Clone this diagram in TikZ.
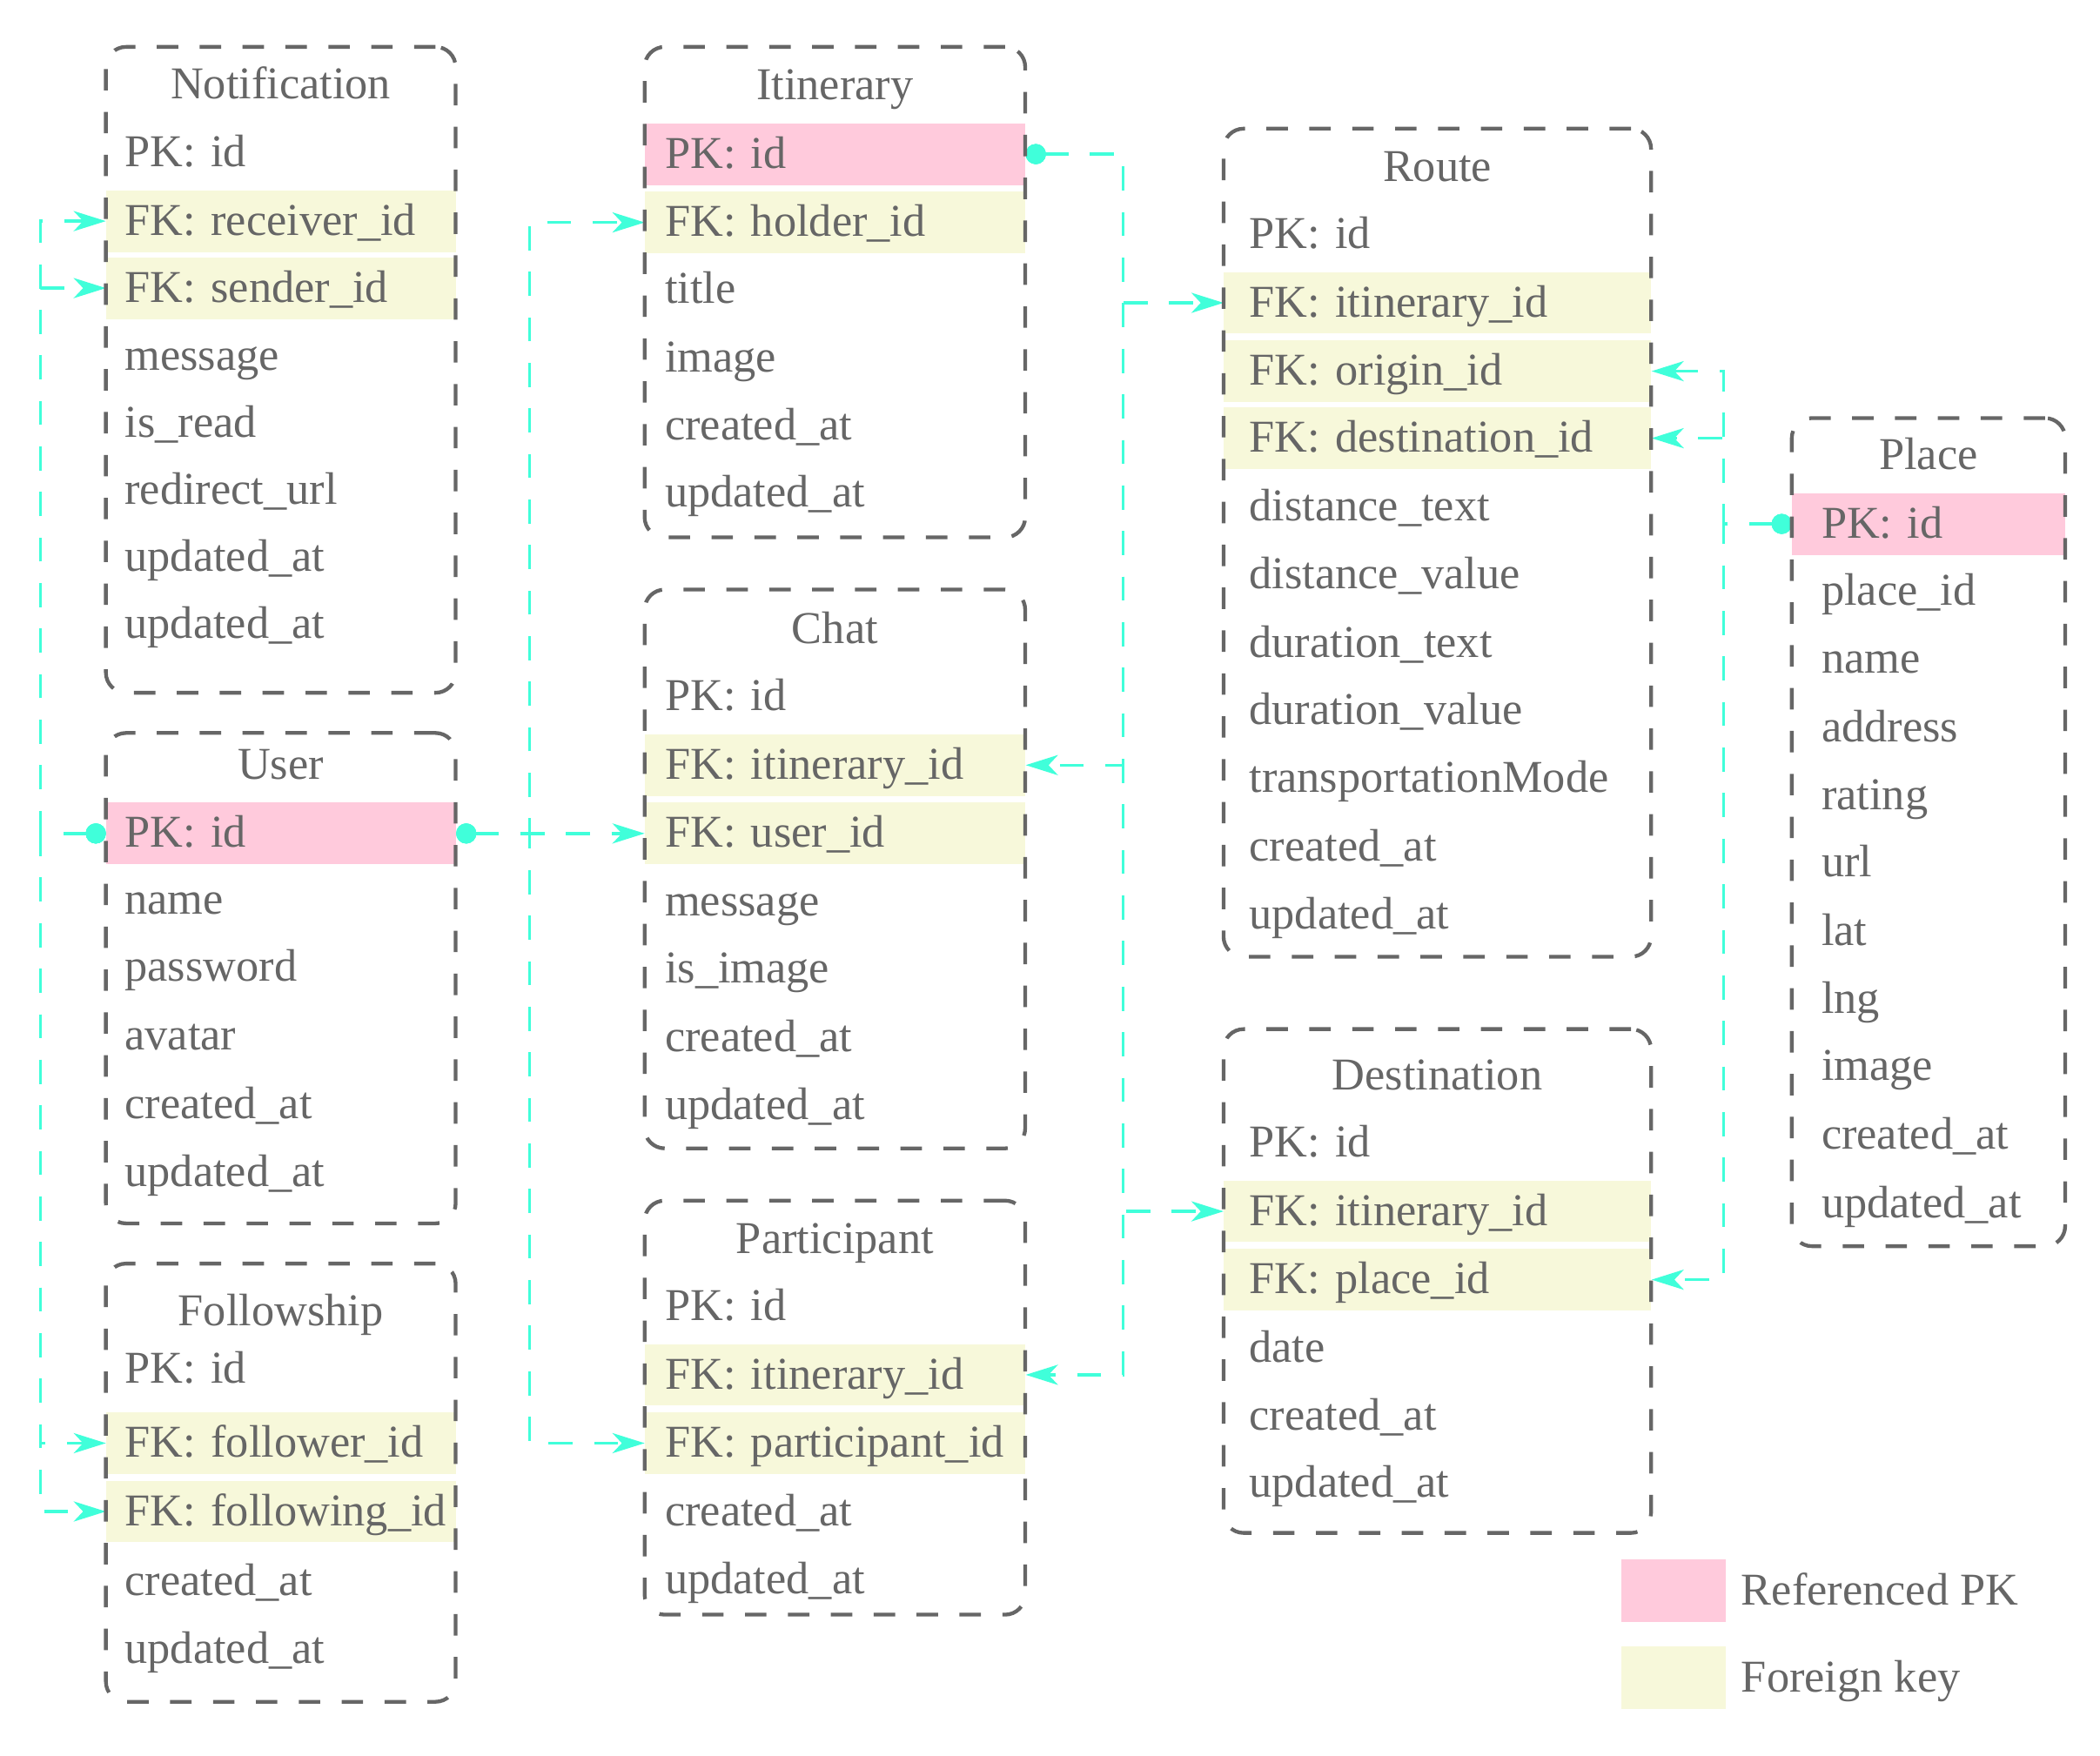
\documentclass[tikz,border=0pt]{standalone}
\usepackage{fontspec}
\setmainfont{Liberation Serif}
\usetikzlibrary{arrows.meta,positioning}
\definecolor{txtgray}{RGB}{102,102,102}
\definecolor{pkpink}{RGB}{255,202,220}
\definecolor{fkyellow}{RGB}{247,248,218}
\definecolor{linkcyan}{RGB}{64,255,218}
\pgfdeclarelayer{edgelayer}
\pgfdeclarelayer{nodelayer}
\pgfsetlayers{edgelayer,nodelayer,main}
\tikzset{font=\fontsize{34}{40}\selectfont}
\tikzstyle{tablebox}=[draw=txtgray, rounded corners=15pt, line width=2.8pt, dash pattern=on 16pt off 16pt]
\tikzstyle{tabtitle}=[text=txtgray, inner sep=0pt, text height=30pt, text depth=9pt]
\tikzstyle{field}=[anchor=west, text=txtgray, align=left, inner ysep=0pt, minimum height=46pt, text height=30pt, text depth=9pt, execute at begin node={\hyphenpenalty=10000\exhyphenpenalty=10000\relax}]
\tikzstyle{pkey}=[field, fill=pkpink]
\tikzstyle{fkey}=[field, fill=fkyellow]
\tikzstyle{colA}=[inner xsep=14pt, text width=233pt]
\tikzstyle{colB}=[inner xsep=15pt, text width=254pt]
\tikzstyle{colC}=[inner xsep=19pt, text width=281pt]
\tikzstyle{colD}=[inner xsep=22pt, text width=160pt]
\tikzstyle{fklink}=[draw=linkcyan, line width=2.2pt, dash pattern=on 18pt off 16pt, {Circle[length=15pt]}-{Stealth[length=24pt,width=15pt,inset=7pt]}]
\tikzstyle{legendbox}=[minimum width=78pt, minimum height=47pt, inner sep=0pt]
\tikzstyle{legendtext}=[text=txtgray, inner sep=0pt, text height=30pt, text depth=9pt]

\begin{document}
\begin{tikzpicture}[x=1pt,y=-1pt]
	\useasboundingbox (0,0) rectangle (1567,1310);
	\begin{pgfonlayer}{nodelayer}
		% Notification
		\node [style=tabtitle] (NotifTitle) at (209.5,63) {Notification};
		\node [style=field, colA] (NotifPK) at (79,114) {PK:~id};
		\node [style=fkey, colA] (NotifRecv) at (79,165) {FK:~receiver\_id};
		\node [style=fkey, colA] (NotifSend) at (79,215) {FK:~sender\_id};
		\node [style=field, colA] (NotifMsg) at (79,266) {message};
		\node [style=field, colA] (NotifRead) at (79,316) {is\_read};
		\node [style=field, colA] (NotifUrl) at (79,366) {redirect\_url};
		\node [style=field, colA] (NotifUpd) at (79,416) {updated\_at};
		\node [style=field, colA] (NotifUpdB) at (79,466) {updated\_at};
		% User
		\node [style=tabtitle] (UserTitle) at (209.5,571) {User};
		\node [style=pkey, colA] (UserPK) at (79,622) {PK:~id};
		\node [style=field, colA] (UserName) at (79,672) {name};
		\node [style=field, colA] (UserPwd) at (79,722) {password};
		\node [style=field, colA] (UserAvatar) at (79,773) {avatar};
		\node [style=field, colA] (UserCre) at (79,824) {created\_at};
		\node [style=field, colA] (UserUpd) at (79,875) {updated\_at};
		% Followship
		\node [style=tabtitle] (FollowTitle) at (209.5,979) {Followship};
		\node [style=field, colA] (FollowPK) at (79,1022) {PK:~id};
		\node [style=fkey, colA] (FollowEr) at (79,1077) {FK:~follower\_id};
		\node [style=fkey, colA] (FollowIng) at (79,1128) {FK:~following\_id};
		\node [style=field, colA] (FollowCre) at (79,1180) {created\_at};
		\node [style=field, colA] (FollowUpd) at (79,1231) {updated\_at};
		% Itinerary
		\node [style=tabtitle] (ItinTitle) at (623,64) {Itinerary};
		\node [style=pkey, colB] (ItinPK) at (481,115) {PK:~id};
		\node [style=fkey, colB] (ItinHolder) at (481,166) {FK:~holder\_id};
		\node [style=field, colB] (ItinTitleCol) at (481,216) {title};
		\node [style=field, colB] (ItinImage) at (481,267) {image};
		\node [style=field, colB] (ItinCre) at (481,318) {created\_at};
		\node [style=field, colB] (ItinUpd) at (481,368) {updated\_at};
		% Chat
		\node [style=tabtitle] (ChatTitle) at (623,470) {Chat};
		\node [style=field, colB] (ChatPK) at (481,520) {PK:~id};
		\node [style=fkey, colB] (ChatItin) at (481,571) {FK:~itinerary\_id};
		\node [style=fkey, colB] (ChatUser) at (481,622) {FK:~user\_id};
		\node [style=field, colB] (ChatMsg) at (481,673) {message};
		\node [style=field, colB] (ChatImg) at (481,723) {is\_image};
		\node [style=field, colB] (ChatCre) at (481,774) {created\_at};
		\node [style=field, colB] (ChatUpd) at (481,825) {updated\_at};
		% Participant
		\node [style=tabtitle] (PartTitle) at (623,925) {Participant};
		\node [style=field, colB] (PartPK) at (481,975) {PK:~id};
		\node [style=fkey, colB] (PartItin) at (481,1026) {FK:~itinerary\_id};
		\node [style=fkey, colB] (PartUser) at (481,1077) {FK:~participant\_id};
		\node [style=field, colB] (PartCre) at (481,1128) {created\_at};
		\node [style=field, colB] (PartUpd) at (481,1179) {updated\_at};
		% Route
		\node [style=tabtitle] (RouteTitle) at (1072.5,125) {Route};
		\node [style=field, colC] (RoutePK) at (913,175) {PK:~id};
		\node [style=fkey, colC] (RouteItin) at (913,226) {FK:~itinerary\_id};
		\node [style=fkey, colC] (RouteOrig) at (913,277) {FK:~origin\_id};
		\node [style=fkey, colC] (RouteDest) at (913,327) {FK:~destination\_id};
		\node [style=field, colC] (RouteDistT) at (913,378) {distance\_text};
		\node [style=field, colC] (RouteDistV) at (913,429) {distance\_value};
		\node [style=field, colC] (RouteDurT) at (913,480) {duration\_text};
		\node [style=field, colC] (RouteDurV) at (913,530) {duration\_value};
		\node [style=field, colC] (RouteMode) at (913,581) {transportationMode};
		\node [style=field, colC] (RouteCre) at (913,632) {created\_at};
		\node [style=field, colC] (RouteUpd) at (913,683) {updated\_at};
		% Destination
		\node [style=tabtitle] (DestTitle) at (1072.5,803) {Destination};
		\node [style=field, colC] (DestPK) at (913,853) {PK:~id};
		\node [style=fkey, colC] (DestItin) at (913,904) {FK:~itinerary\_id};
		\node [style=fkey, colC] (DestPlace) at (913,955) {FK:~place\_id};
		\node [style=field, colC] (DestDate) at (913,1006) {date};
		\node [style=field, colC] (DestCre) at (913,1057) {created\_at};
		\node [style=field, colC] (DestUpd) at (913,1107) {updated\_at};
		% Place
		\node [style=tabtitle] (PlaceTitle) at (1439,340) {Place};
		\node [style=pkey, colD] (PlacePK) at (1337,391) {PK:~id};
		\node [style=field, colD] (PlaceGid) at (1337,441) {place\_id};
		\node [style=field, colD] (PlaceName) at (1337,492) {name};
		\node [style=field, colD] (PlaceAddr) at (1337,543) {address};
		\node [style=field, colD] (PlaceRate) at (1337,594) {rating};
		\node [style=field, colD] (PlaceUrl) at (1337,644) {url};
		\node [style=field, colD] (PlaceLat) at (1337,695) {lat};
		\node [style=field, colD] (PlaceLng) at (1337,746) {lng};
		\node [style=field, colD] (PlaceImg) at (1337,796) {image};
		\node [style=field, colD] (PlaceCre) at (1337,847) {created\_at};
		\node [style=field, colD] (PlaceUpd) at (1337,898) {updated\_at};
		% legend
		\node [style=legendbox, fill=pkpink] (KeyPK) at (1249,1187) {};
		\node [style=legendtext, right=11pt of KeyPK] (KeyPKText) {Referenced PK};
		\node [style=legendbox, fill=fkyellow] (KeyFK) at (1249,1252) {};
		\node [style=legendtext, right=11pt of KeyFK] (KeyFKText) {Foreign key};
	\end{pgfonlayer}
	% table frames
	\node [style=tablebox, minimum width=261pt, minimum height=482pt] (Notif) at (209.5,276) {};
	\node [style=tablebox, minimum width=261pt, minimum height=366pt] (User) at (209.5,730) {};
	\node [style=tablebox, minimum width=261pt, minimum height=327pt] (Follow) at (209.5,1106.5) {};
	\node [style=tablebox, minimum width=284pt, minimum height=366pt] (Itin) at (623,218) {};
	\node [style=tablebox, minimum width=284pt, minimum height=417pt] (Chat) at (623,648.5) {};
	\node [style=tablebox, minimum width=284pt, minimum height=309pt] (Part) at (623,1050.5) {};
	\node [style=tablebox, minimum width=319pt, minimum height=618pt] (Route) at (1072.5,405) {};
	\node [style=tablebox, minimum width=319pt, minimum height=376pt] (Dest) at (1072.5,956) {};
	\node [style=tablebox, minimum width=204pt, minimum height=618pt] (Place) at (1439,621) {};
	\begin{pgfonlayer}{edgelayer}
		\coordinate (BusUserL) at (30,0);
		\coordinate (BusUserR) at (395,0);
		\coordinate (BusItin) at (838,0);
		\coordinate (BusPlace) at (1286,0);
		% user id, left side
		\draw [style=fklink] (UserPK.west) to (BusUserL |- UserPK.west) |- (NotifRecv.west);
		\draw [style=fklink] (UserPK.west) to (BusUserL |- UserPK.west) |- (NotifSend.west);
		\draw [style=fklink] (UserPK.west) to (BusUserL |- UserPK.west) |- (FollowEr.west);
		\draw [style=fklink] (UserPK.west) to (BusUserL |- UserPK.west) |- (FollowIng.west);
		% user id, right side
		\draw [style=fklink] (UserPK.east) to (BusUserR |- UserPK.east) |- (ItinHolder.west);
		\draw [style=fklink] (UserPK.east) to (ChatUser.west);
		\draw [style=fklink] (UserPK.east) to (BusUserR |- UserPK.east) |- (PartUser.west);
		% itinerary id
		\draw [style=fklink] (ItinPK.east) to (BusItin |- ItinPK.east) |- (RouteItin.west);
		\draw [style=fklink] (ItinPK.east) to (BusItin |- ItinPK.east) |- (ChatItin.east);
		\draw [style=fklink] (ItinPK.east) to (BusItin |- ItinPK.east) |- (DestItin.west);
		\draw [style=fklink] (ItinPK.east) to (BusItin |- ItinPK.east) |- (PartItin.east);
		% place id
		\draw [style=fklink] (PlacePK.west) to (BusPlace |- PlacePK.west) |- (RouteOrig.east);
		\draw [style=fklink] (PlacePK.west) to (BusPlace |- PlacePK.west) |- (RouteDest.east);
		\draw [style=fklink] (PlacePK.west) to (BusPlace |- PlacePK.west) |- (DestPlace.east);
	\end{pgfonlayer}
\end{tikzpicture}
\end{document}
